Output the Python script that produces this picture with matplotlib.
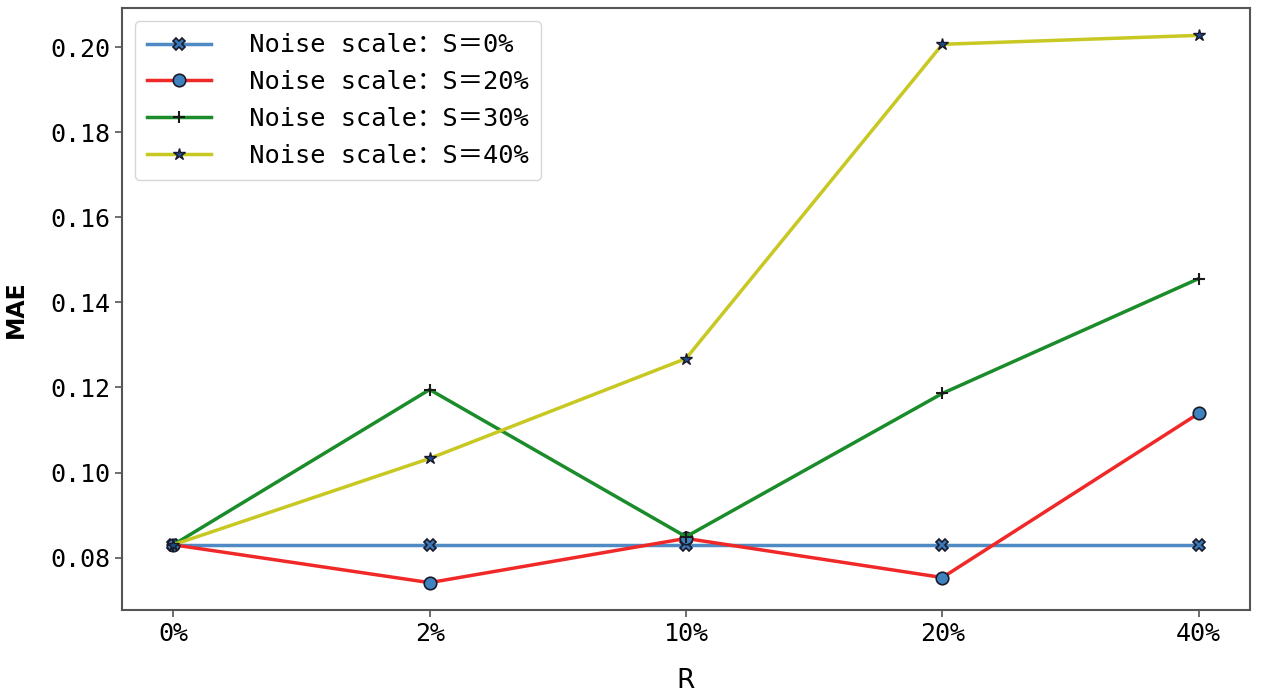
import matplotlib
matplotlib.use("Agg")
import matplotlib.pyplot as plt

plt.rcParams['font.family'] = ['DejaVu Sans Mono', 'Noto Sans CJK SC']

r_labels = ['0%', '2%', '10%', '20%', '40%']
s0 = [0.083, 0.083, 0.083, 0.083, 0.083]
s20 = [0.083, 0.0741, 0.0845, 0.0753, 0.1139]
s30 = [0.083, 0.1195, 0.0849, 0.1186, 0.1456]
s40 = [0.083, 0.1033, 0.1268, 0.2007, 0.2028]
y_ticks = [0.08, 0.10, 0.12, 0.14, 0.16, 0.18, 0.20]
y_ticklabels = ['0.08', '0.10', '0.12', '0.14', '0.16', '0.18', '0.20']
series_labels = [' Noise scale：S＝0%', ' Noise scale：S＝20%',
                 ' Noise scale：S＝30%', ' Noise scale：S＝40%']

fig = plt.figure(figsize=(12.65, 6.96), dpi=100)
ax = fig.add_axes([122/1265, 1 - 610/696, (1250-122)/1265, (610-8)/696])
x = list(range(len(r_labels)))

ax.plot(x, s0, color='#4f8ac4', lw=2.5, marker='X', ms=8, mfc='#3a78b8', mec='#1a1a2a', mew=1.2, label=series_labels[0])
ax.plot(x, s20, color='#f02828', lw=2.5, marker='o', ms=9, mfc='#3f82c0', mec='#1a1a2a', mew=1.2, label=series_labels[1])
ax.plot(x, s30, color='#1a8c2a', lw=2.5, marker='+', ms=9, mec='#1a1a1a', mew=1.5, label=series_labels[2])
ax.plot(x, s40, color='#c8c822', lw=2.5, marker='*', ms=9, mfc='#1f4f8a', mec='#1a1a2a', mew=1.0, label=series_labels[3])

ax.set_xticks(x)
ax.set_xticklabels(r_labels)
ax.set_yticks(y_ticks)
ax.set_yticklabels(y_ticklabels)
ax.tick_params(labelsize=18, length=5, width=1.2, color='#555555')
for s in ax.spines.values():
    s.set_color('#555555')
    s.set_linewidth(1.5)

ax.set_xlabel('R', fontsize=19, labelpad=16, family=['DejaVu Sans', 'Noto Sans CJK SC'])
ax.set_ylabel('MAE', fontsize=17, labelpad=16, fontweight='bold', family=['DejaVu Sans', 'Noto Sans CJK SC'])

leg = ax.legend(loc='upper left', fontsize=18.3, frameon=True, handlelength=2.5,
                labelspacing=0.5, borderpad=0.5, handletextpad=0.9)
leg.get_frame().set_edgecolor('#cccccc')

fig.savefig('out.png', dpi=100)
